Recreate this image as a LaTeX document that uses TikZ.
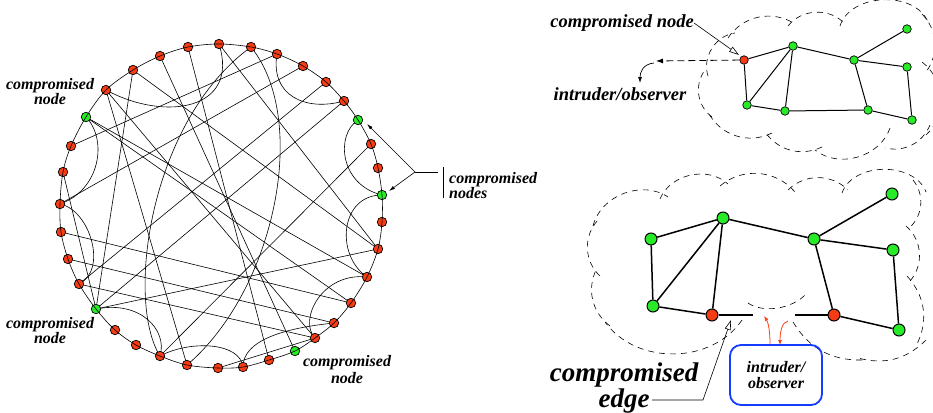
\documentclass[tikz,border=0pt]{standalone}
\usepackage{fontspec}
\setmainfont{Liberation Serif}
\usetikzlibrary{arrows.meta,backgrounds}
\definecolor{nred}{RGB}{245,60,20}
\definecolor{ngreen}{RGB}{40,235,40}
\definecolor{boxblue}{RGB}{20,60,255}
\definecolor{arred}{RGB}{255,60,20}
\begin{document}
\begin{tikzpicture}[x=1pt,y=-1pt,
  cnode/.style={circle,draw=black,line width=0.7pt,minimum size=9.5pt,inner sep=0pt},
  rnode/.style={cnode,fill=nred}, gnode/.style={cnode,fill=ngreen},
  tnode/.style={circle,draw=black,line width=0.7pt,minimum size=8.5pt,inner sep=0pt},
  trnode/.style={tnode,fill=nred}, tgnode/.style={tnode,fill=ngreen},
  bnode/.style={circle,draw=black,line width=1pt,minimum size=12pt,inner sep=0pt},
  brnode/.style={bnode,fill=nred}, bgnode/.style={bnode,fill=ngreen},
  cedge/.style={line width=0.6pt},
  tedge/.style={line width=1.0pt},
  bedge/.style={line width=1.5pt},
  cloudline/.style={dash pattern=on 6pt off 5pt, line width=0.6pt},
  lbl/.style={font=\bfseries\itshape\fontsize{16}{15}\selectfont, align=center, inner sep=0pt},
  lblbig/.style={font=\bfseries\itshape\fontsize{18.5}{18}\selectfont, inner sep=0pt},
  lblhuge/.style={font=\bfseries\itshape\fontsize{27}{24}\selectfont, inner sep=0pt},
  ptr/.style={line width=0.6pt,-{Latex[length=6pt,width=3.5pt]}},
  openptr/.style={line width=0.6pt,-{Triangle[open,length=10pt,width=6pt]}},
]
\useasboundingbox (0,0) rectangle (933,412);

% ---------------- circle graph nodes ----------------
\node[rnode] (c1) at (219,44) {};
\node[rnode] (c2) at (251,47) {};
\node[rnode] (c3) at (277,54) {};
\node[rnode] (c4) at (303,66) {};
\node[rnode] (c5) at (326,82) {};
\node[rnode] (c6) at (344,101) {};
\node[gnode] (c7) at (358,120) {};
\node[rnode] (c8) at (371,144) {};
\node[rnode] (c9) at (378,168) {};
\node[gnode] (c10) at (382,195) {};
\node[rnode] (c11) at (382,222) {};
\node[rnode] (c12) at (378,249) {};
\node[rnode] (c13) at (367,277) {};
\node[rnode] (c14) at (351,303) {};
\node[rnode] (c15) at (334,323) {};
\node[rnode] (c16) at (315,338) {};
\node[gnode] (c17) at (295,351) {};
\node[rnode] (c18) at (269,360) {};
\node[rnode] (c19) at (243,367) {};
\node[rnode] (c20) at (218,368) {};
\node[rnode] (c21) at (187,365) {};
\node[rnode] (c22) at (160,356) {};
\node[rnode] (c23) at (136,345) {};
\node[rnode] (c24) at (115,330) {};
\node[gnode] (c25) at (96,309) {};
\node[rnode] (c26) at (79,284) {};
\node[rnode] (c27) at (68,259) {};
\node[rnode] (c28) at (61,232) {};
\node[rnode] (c29) at (60,204) {};
\node[rnode] (c30) at (63,172) {};
\node[rnode] (c31) at (71,146) {};
\node[gnode] (c32) at (86,117) {};
\node[rnode] (c33) at (106,90) {};
\node[rnode] (c34) at (133,70) {};
\node[rnode] (c35) at (160,56) {};
\node[rnode] (c36) at (188,47) {};

\begin{pgfonlayer}{background}
\begin{scope}[cedge]
\draw (c1.center) -- (c12.center);
\draw (c34.center) -- (c12.center);
\draw (c34.center) -- (c25.center);
\draw (c35.center) -- (c17.center);
\draw (c36.center) -- (c18.center);
\draw (c31.center) -- (c3.center);
\draw (c29.center) -- (c4.center);
\draw (c6.center) -- (c25.center);
\draw (c5.center) -- (c26.center);
\draw (c8.center) -- (c22.center);
\draw (c30.center) -- (c25.center);
\draw (c32.center) -- (c13.center);
\draw (c32.center) -- (c14.center);
\draw (c25.center) -- (c12.center);
\draw (c28.center) -- (c14.center);
\draw (c27.center) -- (c15.center);
\draw (c26.center) -- (c16.center);
\draw (c20.center) -- (c16.center);
\draw (c33.center) -- (c21.center);
\draw (c33.center) -- (c16.center);
% curves
\draw (c33.center) .. controls (165,122) and (240,110) .. (c1.center);
\draw (c3.center) .. controls (270,95) and (305,112) .. (c6.center);
\draw (c7.center) .. controls (335,135) and (340,185) .. (c10.center);
\draw (c10.center) .. controls (340,195) and (335,255) .. (c13.center);
\draw (c13.center) .. controls (322,272) and (298,320) .. (c16.center);
\draw (c32.center) .. controls (108,140) and (100,190) .. (c29.center);
\draw (c29.center) .. controls (90,210) and (108,270) .. (c26.center);
\draw (c25.center) .. controls (140,300) and (168,330) .. (c22.center);
\draw (c22.center) .. controls (190,340) and (240,342) .. (c19.center);
\draw (c19.center) .. controls (243,340) and (285,328) .. (c15.center);
\draw (c2.center) .. controls (310,120) and (275,290) .. (c21.center);
\draw (c2.center) .. controls (150,120) and (125,300) .. (c22.center);
\end{scope}
\end{pgfonlayer}

% ring through the nodes
\draw[line width=0.6pt] plot[smooth cycle, tension=0.55] coordinates {(c1.center) (c2.center) (c3.center) (c4.center) (c5.center) (c6.center) (c7.center) (c8.center) (c9.center) (c10.center) (c11.center) (c12.center) (c13.center) (c14.center) (c15.center) (c16.center) (c17.center) (c18.center) (c19.center) (c20.center) (c21.center) (c22.center) (c23.center) (c24.center) (c25.center) (c26.center) (c27.center) (c28.center) (c29.center) (c30.center) (c31.center) (c32.center) (c33.center) (c34.center) (c35.center) (c36.center)};

% labels of circle graph
\node[lbl] (l1) at (50,92) {compromised\\node};
\node[lbl] (l2) at (50,331) {compromised\\node};
\node[lbl,font=\bfseries\itshape\fontsize{16}{17}\selectfont] (l3) at (347,370) {compromised\\node};
\node[lbl,align=left,anchor=west] (l4) at (449,186) {compromised\\nodes};
\coordinate (pj) at (415,172);
\coordinate (pe) at (438,172);
\coordinate (pa1) at (367,124);
\coordinate (pa2) at (389,191);
\draw[line width=0.7pt] (443,167) -- (443,198);
\draw[line width=0.6pt] (pe) -- (pj);
\draw[ptr] (pj) -- (pa1);
\draw[ptr] (pj) -- (pa2);

% ---------------- top-right graph ----------------
\node[trnode] (tR) at (744,60) {};
\node[tgnode] (tA) at (793,46) {};
\node[tgnode] (tB) at (747,105) {};
\node[tgnode] (tC) at (785,111) {};
\node[tgnode] (tD) at (854,60) {};
\node[tgnode] (tE) at (907,29) {};
\node[tgnode] (tF) at (907,67) {};
\node[tgnode] (tG) at (868,110) {};
\node[tgnode] (tH) at (912,120) {};
\begin{pgfonlayer}{background}
\begin{scope}[tedge]
\draw (tR) -- (tA);
\draw (tR) -- (tB);
\draw (tB) -- (tA);
\draw (tA) -- (tC);
\draw (tB) -- (tC);
\draw (tA) -- (tD);
\draw (tC) -- (tG);
\draw (tD) -- (tG);
\draw (tD) -- (tE);
\draw (tD) -- (tF);
\draw (tF) -- (tH);
\draw (tG) -- (tH);
\end{scope}
\end{pgfonlayer}
% top cloud
\begin{scope}[cloudline]
\draw (712,117) to[bend left=45] (705,70);
\draw (708,76) to[bend left=50] (735,33);
\draw (728,38) to[bend left=45] (795,24);
\draw (788,26) to[bend left=50] (845,24);
\draw (840,26) to[bend left=70] (928,22);
\draw (922,14) to[bend left=40] (926,72);
\draw (922,62) to[bend left=50] (926,135);
\draw (930,125) to[bend left=40] (885,148);
\draw (890,128) to[bend left=55] (815,150);
\draw (822,147) to[bend left=40] (765,132);
\draw (772,133) to[bend left=45] (708,112);
\end{scope}
% labels and arrows
\node[lblbig,anchor=east] (t1) at (694,23) {compromised node};
\node[lblbig] (t2) at (620,94) {intruder/observer};
\coordinate (tq) at (739,55);
\draw[openptr] (t1.east) -- (tq);
\coordinate (td) at (656,61);
\draw[dashed,dash pattern=on 7pt off 4pt,line width=0.8pt,-{Latex[length=7pt,width=5pt]}] (tR) -- (td);
\coordinate (tc1) at (654,63);
\coordinate (tc2) at (640,83);
\draw[line width=0.7pt,-{Latex[length=6pt,width=4pt]}] (tc1) .. controls (643,64) and (640,72) .. (tc2);

% ---------------- bottom-right graph ----------------
\node[bgnode] (b1) at (651,239) {};
\node[bgnode] (b2) at (723,218) {};
\node[bgnode] (b3) at (653,306) {};
\node[brnode] (b4) at (712,315) {};
\node[bgnode] (b5) at (814,239) {};
\node[bgnode] (b6) at (892,194) {};
\node[bgnode] (b7) at (893,250) {};
\node[brnode] (b8) at (834,315) {};
\node[bgnode] (b9) at (899,330) {};
\coordinate (bg1) at (753,315);
\coordinate (bg2) at (795,315);
\begin{pgfonlayer}{background}
\begin{scope}[bedge]
\draw (b1) -- (b2);
\draw (b1) -- (b3);
\draw (b3) -- (b2);
\draw (b2) -- (b4);
\draw (b3) -- (b4);
\draw (b2) -- (b5);
\draw (b5) -- (b6);
\draw (b5) -- (b7);
\draw (b5) -- (b8);
\draw (b7) -- (b9);
\draw (b8) -- (b9);
\draw (b4) -- (bg1);
\draw (bg2) -- (b8);
\end{scope}
\end{pgfonlayer}
% bottom cloud
\begin{scope}[cloudline]
\draw (742,320) to[bend left=55] (605,322);
\draw (610,326) to[bend left=40] (597,268);
\draw (600,276) to[bend left=45] (598,220);
\draw (593,226) to[bend left=55] (668,197);
\draw (660,199) to[bend left=55] (728,184);
\draw (720,186) to[bend left=45] (795,192);
\draw (788,190) to[bend left=45] (848,190);
\draw (842,193) to[bend left=70] (926,192);
\draw (913,180) to[bend left=45] (908,229);
\draw (906,226) to[bend left=45] (910,281);
\draw (907,276) to[bend left=35] (916,346);
\draw (926,340) to[bend left=30] (858,358);
\draw (862,360) to[bend left=30] (793,322);
\draw (748,303) .. controls (762,313) and (792,310) .. (807,293);
\end{scope}
% intruder box
\node[draw=boxblue,line width=1.8pt,rounded corners=11pt,minimum width=92pt,minimum height=60pt,inner sep=0pt] (box) at (776,375) {};
\node[font=\bfseries\itshape\fontsize{16}{16}\selectfont,align=center,inner sep=0pt] (boxt) at (776,375) {intruder/\\observer};
\coordinate (ra1) at (764,316);
\coordinate (ra2) at (788,321);
\coordinate (ra3) at (780,345);
\draw[arred,line width=0.8pt,-{Latex[length=5pt,width=4pt]}] (box.north west -| 770,0) .. controls (770,330) and (768,322) .. (ra1);
\draw[arred,line width=0.8pt,-{Latex[length=5pt,width=4pt]}] (ra2) .. controls (782,322) and (780,332) .. (ra3);
% compromised edge label
\node[lblhuge,align=center,font=\bfseries\itshape\fontsize{27}{24}\selectfont] (e1) at (624,388) {compromised\\edge};
\coordinate (es) at (652,400);
\coordinate (ek) at (703,400);
\coordinate (et) at (731,320);
\draw[openptr] (es) -- (ek) -- (et);
\end{tikzpicture}
\end{document}
